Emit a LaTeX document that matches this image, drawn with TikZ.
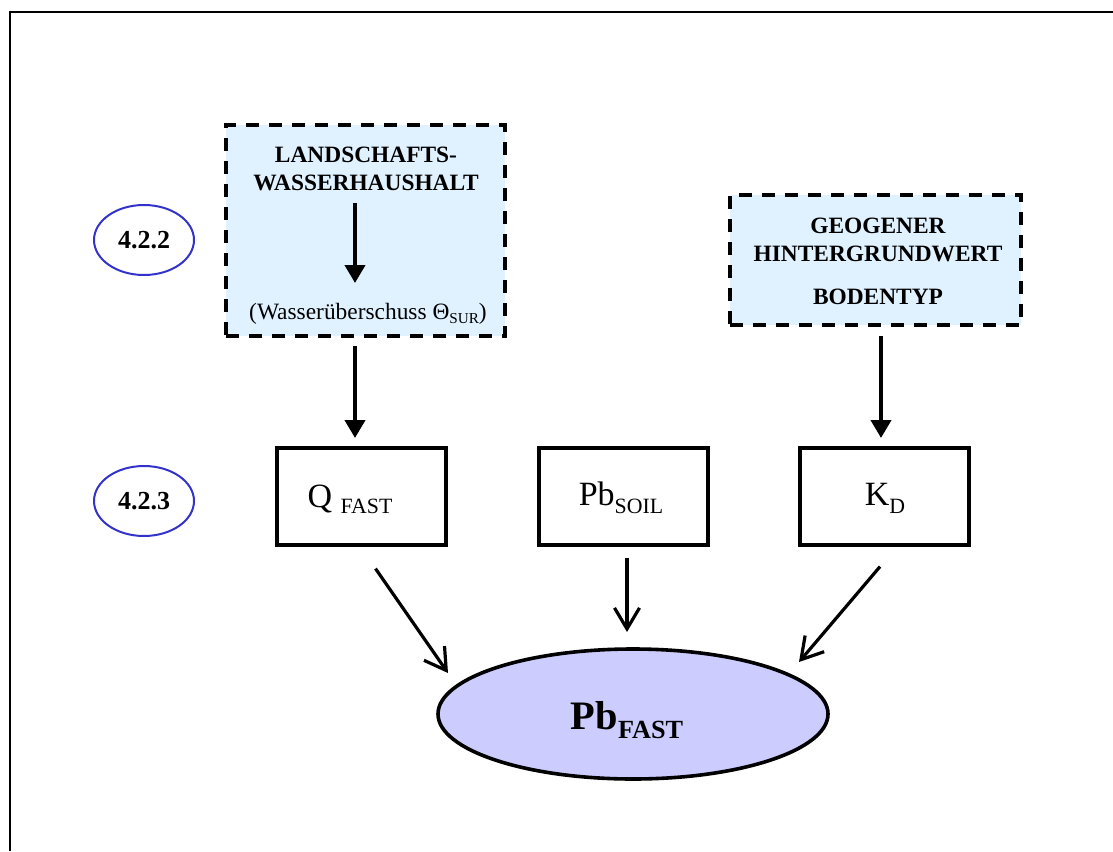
\documentclass[tikz,border=0pt]{standalone}
\usepackage{fontspec}
\setmainfont{Liberation Serif}
\usetikzlibrary{shapes.geometric,arrows.meta,calc}
\definecolor{boxblue}{RGB}{224,242,255}
\definecolor{lblblue}{RGB}{51,51,204}
\definecolor{resfill}{RGB}{204,204,255}
\newcommand{\mysub}[3]{\raisebox{-#3}{\fontsize{#1}{#1}\selectfont #2}}
\begin{document}
\begin{tikzpicture}[x=0.5pt,y=-0.5pt,
  dashbox/.style={draw, line width=2pt, dash pattern=on 6.5pt off 5pt, fill=boxblue, inner sep=0pt},
  varbox/.style={draw, line width=1.6pt, minimum width=84.5pt, minimum height=48.5pt, inner sep=0pt},
  lbl/.style={ellipse, draw=lblblue, line width=1pt, minimum width=50pt, minimum height=35pt, inner sep=0pt, font=\fontsize{13}{13}\selectfont\bfseries},
  btxt/.style={align=center, font=\fontsize{11.7}{14.2}\selectfont\bfseries, inner sep=0pt},
  vtxt/.style={font=\fontsize{17}{17}\selectfont, inner sep=0pt},
  tri/.style={-{Triangle[length=9pt,width=10pt]}, line width=2pt},
  barb/.style={-{Straight Barb[length=10.5pt,width=12.5pt]}, line width=1.6pt},
]
\useasboundingbox (0,0) rectangle (1113,851);
% frame
\draw[line width=1.3pt] (10,851) -- (10,12) -- (1113,12);

% top left dashed box
\node[dashbox, minimum width=139.5pt, minimum height=105.5pt] (wh) at (365.5,230.5) {};
\node[btxt] (whT) at (366,169) {LANDSCHAFTS-\\WASSERHAUSHALT};
\node[inner sep=0pt, font=\fontsize{11.7}{11.7}\selectfont] (whS) at (368,314) {(Wasserüberschuss Θ\mysub{7.6}{SUR}{2pt})};
\draw[tri] ([shift={(-11,34)}]whT.center) -- ([shift={(-13,-31)}]whS.center);

% top right dashed box
\node[dashbox, minimum width=145.5pt, minimum height=65pt] (geo) at (875.5,260) {};
\node[btxt] (geoT) at (878,261) {GEOGENER\\HINTERGRUNDWERT\\[7pt]BODENTYP};

% section labels
\node[lbl] (l422) at (144,240) {4.2.2};
\node[lbl] (l423) at (144,501) {4.2.3};

% variable boxes
\node[varbox] (q) at (361.5,496.5) {};
\node[varbox] (pb) at (623.5,496.5) {};
\node[varbox] (k) at (884.5,496.5) {};
\node[vtxt] (qT) at (350,499) {Q \mysub{10.9}{FAST}{3pt}};
\node[vtxt] (pbT) at (621,498) {Pb\mysub{10.9}{SOIL}{4pt}};
\node[vtxt] (kT) at (885,498) {K\mysub{10.9}{D}{4pt}};

% result
\node[ellipse, draw, line width=1.8pt, fill=resfill, minimum width=195pt, minimum height=65pt, inner sep=0pt] (pbf) at (633,714) {};
\node[inner sep=0pt, font=\fontsize{20.2}{20.2}\selectfont\bfseries] (pbfT) at (627,720) {Pb\mysub{13.1}{FAST}{4.6pt}};

% connectors
\draw[tri, shorten <=4pt, shorten >=4.2pt] (wh.south -| 355,0) -- (q.north -| 355,0);
\draw[tri, shorten <=4.5pt, shorten >=4.2pt] (geo.south -| 881,0) -- (k.north -| 881,0);
\draw[barb] ([shift={(14,22)}]q.south) -- ([shift={(-185,-41)}]pbf.center);
\draw[barb] ([shift={(3.5,11)}]pb.south) -- ([shift={(-6,-82)}]pbf.center);
\draw[barb] ([shift={(-4.5,20)}]k.south) -- ([shift={(166,-52)}]pbf.center);
\end{tikzpicture}
\end{document}
